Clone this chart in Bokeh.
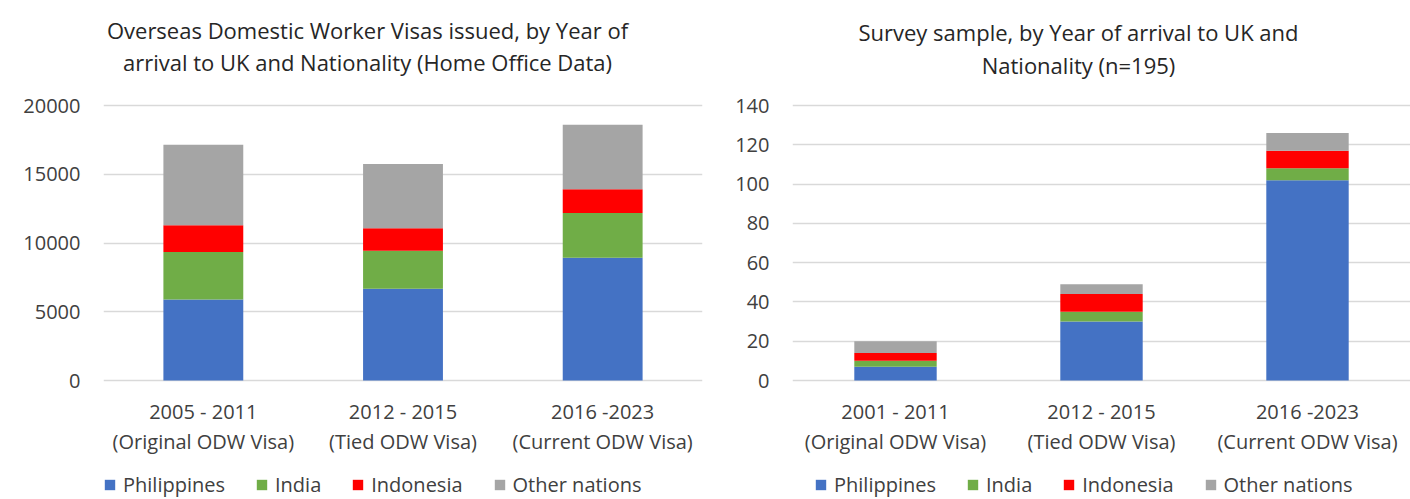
from bokeh.plotting import figure
from bokeh.models import (FactorRange, Range1d, FixedTicker, CategoricalAxis,
                          Legend, LegendItem, Label, ColumnDataSource)
from bokeh.layouts import row
from bokeh.embed import file_html
from bokeh.resources import INLINE

# ---------------- data ----------------
nations = ["Philippines", "India", "Indonesia", "Other nations"]
colors = ["#4472C4", "#70AD47", "#FF0000", "#A5A5A5"]

visa_periods = ["2005 - 2011", "2012 - 2015", "2016 -2023"]
survey_periods = ["2001 - 2011", "2012 - 2015", "2016 -2023"]
visa_types = ["(Original ODW Visa)", "(Tied ODW Visa)", "(Current ODW Visa)"]

visas_philippines = [5900, 6670, 8920]
visas_india = [3450, 2760, 3270]
visas_indonesia = [1950, 1650, 1720]
visas_other = [5850, 4670, 4690]

survey_philippines = [7, 30, 102]
survey_india = [3, 5, 6]
survey_indonesia = [4, 9, 9]
survey_other = [6, 5, 9]

visa_ticks = [0, 5000, 10000, 15000, 20000]
survey_ticks = [0, 20, 40, 60, 80, 100, 120, 140]

title_left = ["Overseas Domestic Worker Visas issued, by Year of",
              "arrival to UK and Nationality (Home Office Data)"]
title_right = ["Survey sample, by Year of arrival to UK and",
               "Nationality (n=195)"]

FONT = "Open Sans"
TXT = "#404040"
H = 499
TOP_PX, ZERO_PX = 105, 380          # pixel rows of the top gridline and of 0


def build(periods, series, ymax, ticks, title_lines, width, bl, br,
          title_x, title_y, legend_x):
    src = dict(period=periods)
    for name, vals in zip(nations, series):
        src[name] = vals
    source = ColumnDataSource(src)

    # the frame fills the full height; 0 and ymax land on the reference rows
    per_px = ymax / (ZERO_PX - TOP_PX)
    y_lo = -(H - ZERO_PX) * per_px
    y_hi = ymax + TOP_PX * per_px

    p = figure(width=width, height=H, x_range=FactorRange(*periods),
               y_range=Range1d(y_lo, y_hi), output_backend="svg",
               toolbar_location=None, x_axis_location=None,
               min_border_left=bl, min_border_right=br,
               min_border_top=0, min_border_bottom=0)
    p.outline_line_color = None
    p.extra_x_ranges = {"types": FactorRange(*visa_types)}

    rends = p.vbar_stack(nations, x="period", width=0.40, color=colors,
                         line_color=None, source=source)

    # y axis
    p.yaxis.ticker = FixedTicker(ticks=ticks)
    p.yaxis.axis_line_color = None
    p.yaxis.major_tick_line_color = None
    p.yaxis.major_tick_out = 0
    p.yaxis.minor_tick_line_color = None
    p.yaxis.major_label_standoff = 23
    p.yaxis.major_label_text_font = FONT
    p.yaxis.major_label_text_font_size = "20px"
    p.yaxis.major_label_text_color = TXT

    # two category axes pinned at y = 0 (period line, then visa-type line)
    common = dict(axis_line_color=None, major_tick_line_color=None,
                  major_tick_out=0, major_tick_in=0, fixed_location=0,
                  major_label_text_font=FONT, major_label_text_font_size="20px",
                  major_label_text_color=TXT)
    ax1 = CategoricalAxis(major_label_standoff=17, **common)
    ax2 = CategoricalAxis(x_range_name="types", major_label_standoff=47, **common)
    p.add_layout(ax1, "below")
    p.add_layout(ax2, "below")

    p.xgrid.grid_line_color = None
    p.ygrid.grid_line_color = "#D9D9D9"
    p.ygrid.grid_line_width = 1.3

    # two-line title
    for txt, ty in zip(title_lines, title_y):
        p.add_layout(Label(x=title_x, y=H - ty, x_units="screen",
                           y_units="screen", text=txt, text_align="center",
                           text_baseline="middle", text_font=FONT,
                           text_font_size="22px", text_color="#262626"))

    items = [LegendItem(label=n, renderers=[r]) for n, r in zip(nations, rends)]
    legend = Legend(items=items, orientation="horizontal",
                    location=(legend_x, 1), padding=0, margin=0,
                    spacing=30, label_standoff=7, glyph_width=13,
                    glyph_height=13, label_text_font=FONT,
                    label_text_font_size="20px", label_text_color=TXT,
                    border_line_color=None, background_fill_alpha=0)
    p.add_layout(legend)
    return p


p1 = build(visa_periods,
           [visas_philippines, visas_india, visas_indonesia, visas_other],
           20000, visa_ticks, title_left, 730, 103, 28,
           367 - 103, (29, 61), 0)
p2 = build(survey_periods,
           [survey_philippines, survey_india, survey_indonesia, survey_other],
           140, survey_ticks, title_right, 680, 62, 0,
           1078 - 792, (31, 64), 22)

layout = row(p1, p2)
open("out.html", "w").write(file_html(layout, INLINE))
